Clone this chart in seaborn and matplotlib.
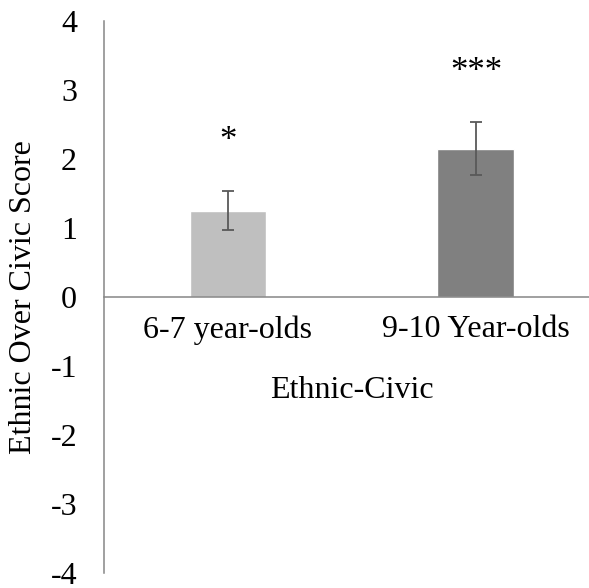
import matplotlib
matplotlib.use("Agg")
import matplotlib.pyplot as plt
import seaborn as sns
import pandas as pd

categories = ["6-7 year-olds", "9-10 Year-olds"]
scores = [1.25, 2.15]
errors = [0.28, 0.38]
stars = ["*", "***"]
colors = ["#BFBFBF", "#808080"]

sns.set_style("white")
plt.rcParams["font.family"] = ["Liberation Serif", "DejaVu Serif"]
plt.rcParams["text.color"] = "black"
plt.rcParams["xtick.color"] = "black"
plt.rcParams["ytick.color"] = "black"

W, H = 589, 588
fig = plt.figure(figsize=(W / 100, H / 100), dpi=100)
ax = fig.add_axes([104 / W, 15 / H, 485 / W, 552 / H])

df = pd.DataFrame({"group": categories, "score": scores})
sns.barplot(data=df, x="group", y="score", hue="group", palette=colors,
            width=0.31, errorbar=None, legend=False, ax=ax, saturation=1)
ax.errorbar(range(len(categories)), scores, yerr=errors, fmt="none",
            ecolor="#595959", elinewidth=1.3, capsize=4.3, capthick=1.3)

for i, (s, v, e) in enumerate(zip(stars, scores, errors)):
    ax.text(i, v + e + 0.6, s, ha="center", va="baseline", fontsize=25,
            color="black")

ax.set_xlim(-0.5, 1.456)
ax.set_ylim(-4, 4)
ax.set_yticks(range(-4, 5))
ax.set_yticklabels([str(t) for t in range(-4, 5)])

for sp in ["top", "right"]:
    ax.spines[sp].set_visible(False)
ax.spines["bottom"].set_position(("data", 0))
ax.spines["bottom"].set_color("#868686")
ax.spines["bottom"].set_linewidth(1.1)
ax.spines["left"].set_color("#868686")
ax.spines["left"].set_linewidth(1.1)

ax.tick_params(axis="y", length=0, pad=19.4, labelsize=23, labelcolor="black")
ax.tick_params(axis="x", length=0, pad=13, labelsize=23, labelcolor="black")
ax.set_xlabel("")
ax.set_ylabel("")
fig.text(24 / W, 1 - 297.5 / H, "Ethnic Over Civic Score", rotation=90,
         ha="center", va="center", fontsize=23, color="black")
ax.text(0.5, -1.36, "Ethnic-Civic", ha="center", va="center", fontsize=23,
        color="black")
ax.grid(False)

fig.savefig("out.png", dpi=100)
